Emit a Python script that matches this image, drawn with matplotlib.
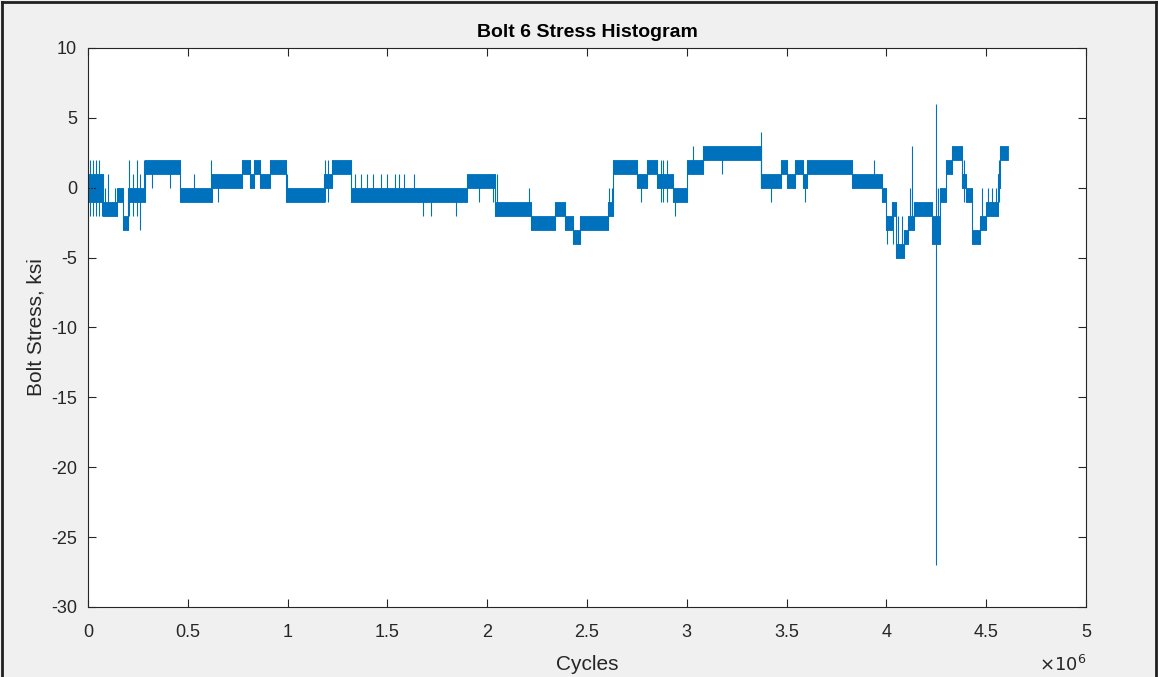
import matplotlib
matplotlib.use("Agg")
import matplotlib.pyplot as plt
from matplotlib.lines import Line2D
from matplotlib.ticker import FuncFormatter

# stress bands (cycles in millions): each block sits between lo and hi
block_edges = [0.000, 0.075, 0.145, 0.175, 0.200, 0.285, 0.460, 0.620, 0.770, 0.810,
               0.830, 0.860, 0.910, 0.990, 1.180, 1.220, 1.320, 1.900, 2.040, 2.220,
               2.340, 2.390, 2.430, 2.465, 2.605, 2.630, 2.750, 2.800, 2.850, 2.930,
               3.000, 3.080, 3.370, 3.470, 3.500, 3.540, 3.580, 3.600, 3.830, 3.980,
               4.000, 4.030, 4.050, 4.090, 4.110, 4.140, 4.230, 4.270, 4.300, 4.330,
               4.380, 4.400, 4.430, 4.470, 4.500, 4.560, 4.570, 4.610]
block_lo = [-1, -2, -1, -3, -1, 1, -1, 0, 1, 0,
            1, 0, 1, -1, 0, 1, -1, 0, -2, -3,
            -2, -3, -4, -3, -2, 1, 0, 1, 0, -1,
            1, 2, 0, 1, 0, 1, 0, 1, 0, -1,
            -3, -2, -5, -4, -3, -2, -4, -1, 1, 2,
            0, -1, -4, -3, -2, 0, 2]
block_hi = [1, -1, 0, -2, 0, 2, 0, 1, 2, 1,
            2, 1, 2, 0, 1, 2, 0, 1, -1, -2,
            -1, -2, -3, -2, -1, 2, 1, 2, 1, 0,
            2, 3, 1, 2, 1, 2, 1, 2, 1, 0,
            -2, -1, -4, -3, -2, -1, -2, 0, 2, 3,
            1, 0, -3, -2, -1, 1, 3]

# single excursions drawn as thin vertical strokes
spike_x = [0.010, 0.025, 0.040, 0.055, 0.070, 0.085, 0.100, 0.120, 0.135,
           0.205, 0.225, 0.245, 0.260, 0.280, 0.320, 0.410,
           0.530, 0.615, 0.650, 0.995, 1.185, 1.200,
           1.340, 1.370, 1.400, 1.430, 1.470, 1.500, 1.540, 1.560, 1.585, 1.635,
           1.680, 1.720, 1.845, 1.960, 2.030, 2.050, 2.210,
           2.610, 2.625, 2.770, 2.870, 2.880, 2.900, 2.940,
           3.030, 3.175, 3.370, 3.420, 3.590, 3.940,
           4.005, 4.035, 4.060, 4.080, 4.120, 4.130, 4.248, 4.260,
           4.390, 4.480, 4.510, 4.530, 4.550, 4.565]
spike_lo = [-2, -2, -2, -2, -2, -2, -2, -2, -2,
            -2, -2, -2, -3, -1, 0, 0,
            -1, -1, -1, -1, -1, -1,
            -1, -1, -1, -1, -1, -1, -1, -1, -1, -1,
            -2, -2, -2, -1, -1, -2, -2,
            -2, -2, -1, -1, -1, -1, -2,
            1, 1, 0, -1, -1, 0,
            -4, -4, -5, -5, -3, -3, -27, -4,
            -1, -3, -2, -2, -2, -1]
spike_hi = [2, 2, 2, 2, 1, 0, 1, -1, 0,
            2, 1, 2, 1, 2, 2, 2,
            1, 2, 1, 1, 2, 2,
            1, 1, 1, 1, 1, 1, 1, 1, 1, 1,
            0, 0, 0, 1, 1, 1, 0,
            0, 0, 1, 2, 2, 2, 0,
            3, 3, 4, 1, 1, 2,
            -2, -1, -2, -2, 0, 3, 6, 0,
            2, 0, 0, 0, 0, 2]

blue = "#0072BD"
scale = 1e6

plt.rcParams["font.family"] = ["Liberation Sans", "DejaVu Sans"]
plt.rcParams["axes.unicode_minus"] = False
fig = plt.figure(figsize=(11.58, 6.77), dpi=100, facecolor="#F0F0F0")
ax = fig.add_axes([0.076, 0.1034, 0.8618, 0.8257])

for i in range(len(block_lo)):
    x0 = block_edges[i] * scale
    x1 = block_edges[i + 1] * scale
    ax.fill_between([x0, x1], [block_lo[i]] * 2, [block_hi[i]] * 2,
                    color=blue, linewidth=0.6, edgecolor=blue)
    if i > 0:
        ax.vlines(x0, min(block_lo[i], block_lo[i - 1]),
                  max(block_hi[i], block_hi[i - 1]), color=blue, linewidth=0.8)

ax.vlines([s * scale for s in spike_x], spike_lo, spike_hi, color=blue, linewidth=0.8)

ax.set_xlim(0, 5e6)
ax.set_ylim(-30, 10)
ax.set_xticks([i * 0.5e6 for i in range(11)])
ax.set_yticks(range(-30, 11, 5))
ax.xaxis.set_major_formatter(FuncFormatter(lambda v, p: f"{v / 1e6:g}"))
ax.tick_params(direction="in", length=6, width=0.8, colors="#262626",
               labelsize=13, top=True, right=True)
ax.tick_params(axis="x", pad=12)
ax.tick_params(axis="y", pad=8)
for sp in ax.spines.values():
    sp.set_color("#262626")
    sp.set_linewidth(0.8)

ax.set_title("Bolt 6 Stress Histogram", fontsize=14, fontweight="bold",
             color="black", pad=8)
ax.set_xlabel("Cycles", fontsize=15, color="#262626", labelpad=10)
ax.set_ylabel("Bolt Stress, ksi", fontsize=15, color="#262626", labelpad=4)
ax.text(1.0, -0.103, r"$\times10^{6}$", transform=ax.transAxes,
        ha="right", va="center", fontsize=13, color="#262626")

# dark frame around the screenshot
for xs, ys in [([0.002, 0.002], [0, 0.997]), ([0.002, 0.998], [0.997, 0.997]),
               ([0.998, 0.998], [0, 0.997])]:
    fig.add_artist(Line2D(xs, ys, transform=fig.transFigure, color="#202020", linewidth=2))

fig.savefig("out.png", dpi=100, facecolor=fig.get_facecolor())
